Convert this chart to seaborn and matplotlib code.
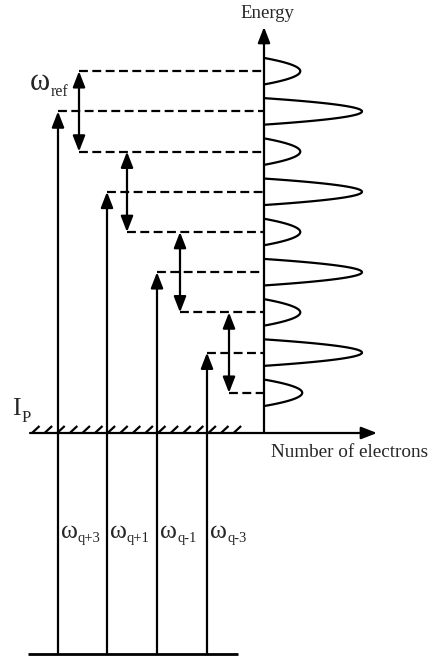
import numpy as np
import pandas as pd
import matplotlib
matplotlib.use("Agg")
import matplotlib.pyplot as plt
from matplotlib.collections import LineCollection
import seaborn as sns

# ---------------- data (energies in units of the reference photon, relative to Ip) ----
harmonic_labels = ["q+3", "q+1", "q-1", "q-3"]
harmonic_levels = [8, 6, 4, 2]          # main photoelectron lines
sideband_levels = [9, 7, 5, 3, 1]       # sidebands
harmonic_counts = [1.0, 1.0, 1.0, 1.0]  # relative number of electrons
sideband_counts = [0.37, 0.37, 0.37, 0.37, 0.39]
ground_level = -5.5
ip_level = 0.0
energy_axis_top = 10.1
axis_titles = ["Energy", "Number of electrons"]
ref_label = "ref"
ip_label = ("I", "P")

# ---------------- layout (pixels) ----------------
W, H = 433, 658
IP_ROW, PX_PER_E = 433.0, 40.2
AXIS_X = 264
PEAK_SCALE = 98
PEAK_HALF = 0.33
photon_x = [58, 107, 157, 207]
ref_x = [79, 127, 180, 229]
LW = 1.6
FONT = "Liberation Serif"

sns.set_theme(style="white")
plt.rcParams["font.family"] = [FONT, "DejaVu Sans"]

fig = plt.figure(figsize=(W / 100, H / 100), dpi=100)
ax = fig.add_axes([0, 0, 1, 1])

# peaks on the energy axis
rows = []
levels = harmonic_levels + sideband_levels
counts = harmonic_counts + sideband_counts
for i, (lev, c) in enumerate(zip(levels, counts)):
    dy = np.linspace(-PEAK_HALF, PEAK_HALF, 80)
    xs = AXIS_X + PEAK_SCALE * c * (1 - (dy / PEAK_HALF) ** 2)
    for a, b in zip(xs, lev + dy):
        rows.append({"peak": i, "x": a, "E": b})
df = pd.DataFrame(rows)
sns.lineplot(data=df, x="x", y="E", units="peak", estimator=None, sort=False,
             color="black", lw=LW, legend=False, ax=ax)

def arrow(x0, y0, x1, y1, style="-|>", hl=0.95, hw=0.37):
    ax.annotate("", xy=(x1, y1), xytext=(x0, y0),
                arrowprops=dict(arrowstyle=f"{style},head_length={hl},head_width={hw}",
                                mutation_scale=10, lw=LW, color="black",
                                shrinkA=0, shrinkB=0))

# energy axis and electron-count axis
arrow(AXIS_X, ip_level, AXIS_X, energy_axis_top)
arrow(30, ip_level, 377, ip_level)

# hatching on the Ip line
hx = np.arange(32, 236, 12.6)
segs = [[(x, ip_level), (x + 7.5, ip_level + 7 / PX_PER_E)] for x in hx]
ax.add_collection(LineCollection(segs, colors="black", linewidths=LW))

# ground level
ax.plot([28, 238], [ground_level, ground_level], color="black", lw=2.0,
        solid_capstyle="butt")

# photon arrows and dashed levels
dash = (0, (4, 2))
for x, lev in zip(photon_x, harmonic_levels):
    arrow(x, ground_level, x, lev)
    ax.plot([x, AXIS_X], [lev, lev], color="black", lw=LW, linestyle=dash)

# reference-photon double arrows
for x, lev in zip(ref_x, harmonic_levels):
    arrow(x, lev - 1, x, lev + 1, style="<|-|>")
for lev in sideband_levels:
    xs = [x for x, h in zip(ref_x, harmonic_levels) if abs(h - lev) == 1]
    ax.plot([min(xs), AXIS_X], [lev, lev], color="black", lw=LW, linestyle=dash)

ax.set_xlim(0, W)
ax.set_ylim((IP_ROW - H) / PX_PER_E, IP_ROW / PX_PER_E)
ax.set_axis_off()

def ftext(x, y, s, size, **kw):
    fig.text(x / W, 1 - y / H, s, fontsize=size, family=FONT, va="baseline", **kw)

ftext(267, 18, axis_titles[0], 13.5, ha="center")
ftext(271, 457, axis_titles[1], 13.8, ha="left")
ftext(30, 90, "ω", 22, ha="left")
ftext(51, 96, ref_label, 11.5, ha="left")
ftext(12, 415, ip_label[0], 18.5, ha="left")
ftext(22, 422, ip_label[1], 12, ha="left")
sub_x = [78, 127, 177, 227]
for x, sx, lab in zip(photon_x, sub_x, harmonic_labels):
    ftext(x + 3, 538, "ω", 18.5, ha="left")
    ftext(sx, 542, lab, 10.5, ha="left")

fig.savefig("out.png", dpi=100, facecolor="white")
